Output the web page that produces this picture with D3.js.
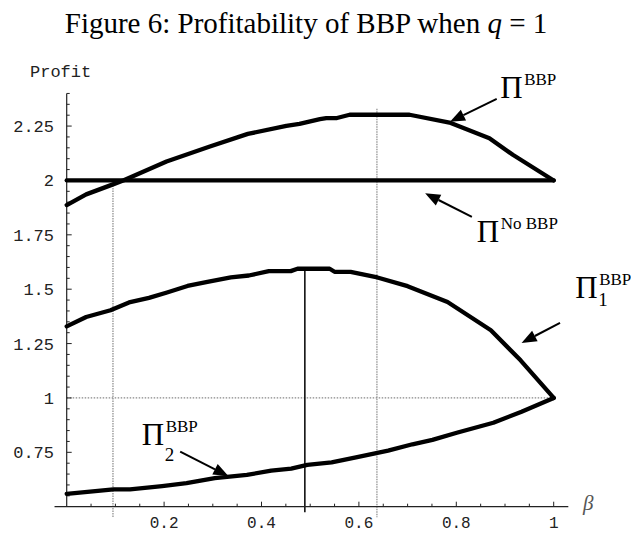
<!DOCTYPE html>
<html>
<head>
<meta charset="utf-8">
<script src="https://cdn.jsdelivr.net/npm/d3@7"></script>
<style>
  body { margin: 0; background: #fff; }
  svg { display: block; }
</style>
</head>
<body>
<div id="plot-div"></div>
<script>
"use strict";

// beta values and profits
const betaBBP = [0, 0.04, 0.095, 0.116, 0.205, 0.294, 0.372, 0.451, 0.478, 0.52, 0.533, 0.555, 0.581, 0.704, 0.786, 0.868, 0.916, 1.0];
const profitBBP = [1.887, 1.936, 1.982, 2.0, 2.087, 2.156, 2.214, 2.251, 2.26, 2.282, 2.287, 2.287, 2.302, 2.302, 2.266, 2.194, 2.118, 2.0];

const betaNoBBP = [0, 1];
const profitNoBBP = [2, 2];

const betaP1 = [0, 0.04, 0.09, 0.128, 0.169, 0.206, 0.248, 0.289, 0.337, 0.374, 0.415, 0.46, 0.474, 0.54, 0.55, 0.583, 0.638, 0.70, 0.782, 0.871, 0.932, 1.0];
const profitP1 = [1.329, 1.372, 1.403, 1.439, 1.46, 1.485, 1.515, 1.534, 1.554, 1.563, 1.583, 1.583, 1.594, 1.594, 1.58, 1.58, 1.554, 1.514, 1.441, 1.311, 1.173, 1.0];

const betaP2 = [0, 0.096, 0.13, 0.196, 0.246, 0.304, 0.37, 0.42, 0.461, 0.494, 0.544, 0.594, 0.66, 0.71, 0.751, 0.801, 0.876, 0.934, 1.0];
const profitP2 = [0.559, 0.58, 0.58, 0.595, 0.608, 0.631, 0.646, 0.666, 0.675, 0.692, 0.704, 0.727, 0.758, 0.787, 0.807, 0.84, 0.886, 0.937, 1.0];

// tick labels
const xTicks = [0.2, 0.4, 0.6, 0.8, 1];
const yTicks = [0.75, 1, 1.25, 1.5, 1.75, 2, 2.25];

// guide lines: [beta, from profit, to profit]
const dottedV = [[0.095, 2.0, 0.452], [0.637, 2.33, 0.452]];
const solidV = [[0.489, 1.594, 0.475]];
const dottedH = [[1, 0, 1]];

// labels: superscript, subscript, text anchor [beta, profit], arrow tail, arrow tip
const labels = [
  {sup: "BBP", sub: "", at: [0.89, 2.378], tail: [0.883, 2.375], tip: [0.787, 2.27]},
  {sup: "No BBP", sub: "", at: [0.842, 1.718], tail: [0.832, 1.833], tip: [0.736, 1.941]},
  {sup: "BBP", sub: "1", at: [1.044, 1.461], tail: [1.013, 1.345], tip: [0.934, 1.253]},
  {sup: "BBP", sub: "2", at: [0.154, 0.784], tail: [0.233, 0.753], tip: [0.332, 0.641]}
];

const width = 631, height = 533;

const svg = d3.select("#plot-div")
  .append("svg")
    .attr("width", width)
    .attr("height", height);

let xScale = d3.scaleLinear()
               .domain([0, 1])
               .range([66.7, 553.7]);

let yScale = d3.scaleLinear()
               .domain([0.5, 2.4])
               .range([506.7, 93.45]);

// title
const title = svg.append("text")
    .attr("x", 306)
    .attr("y", 33)
    .attr("text-anchor", "middle")
    .attr("font-family", "'Liberation Serif', 'Times New Roman', serif")
    .attr("font-size", 29)
    .attr("fill", "#000");
title.append("tspan").text("Figure 6: Profitability of BBP when ");
title.append("tspan").attr("font-style", "italic").text("q");
title.append("tspan").text(" = 1");

const mono = "'Liberation Mono', 'Courier New', monospace";

// axis labels
svg.append("text")
    .attr("x", 30)
    .attr("y", 77)
    .attr("font-family", mono)
    .attr("font-size", 17)
    .attr("fill", "#222")
    .text("Profit");

svg.append("text")
    .attr("x", 583)
    .attr("y", 510)
    .attr("font-family", "'Liberation Serif', serif")
    .attr("font-style", "italic")
    .attr("font-size", 21)
    .attr("fill", "#555")
    .text("β");

// guide lines
const guides = svg.append("g");
guides.selectAll(".dv")
  .data(dottedV)
  .join("line")
    .attr("x1", d => xScale(d[0]))
    .attr("x2", d => xScale(d[0]))
    .attr("y1", d => yScale(d[1]))
    .attr("y2", d => yScale(d[2]))
    .attr("stroke", "#999")
    .attr("stroke-width", 1.4)
    .attr("stroke-dasharray", "1.5,1");

guides.selectAll(".dh")
  .data(dottedH)
  .join("line")
    .attr("x1", d => xScale(d[1]))
    .attr("x2", d => xScale(d[2]))
    .attr("y1", d => yScale(d[0]))
    .attr("y2", d => yScale(d[0]))
    .attr("stroke", "#888")
    .attr("stroke-width", 1.3)
    .attr("stroke-dasharray", "1.5,1.5");

guides.selectAll(".sv")
  .data(solidV)
  .join("line")
    .attr("x1", d => xScale(d[0]))
    .attr("x2", d => xScale(d[0]))
    .attr("y1", d => yScale(d[1]))
    .attr("y2", d => yScale(d[2]))
    .attr("stroke", "#111")
    .attr("stroke-width", 1.6);

// axes, mathematica style: ticks pointing inwards
const axisG = svg.append("g").attr("stroke", "#222");
axisG.append("line")
    .attr("x1", xScale(-0.025)).attr("x2", xScale(1.03))
    .attr("y1", yScale(0.5)).attr("y2", yScale(0.5))
    .attr("stroke-width", 1.2);
axisG.append("line")
    .attr("x1", xScale(0)).attr("x2", xScale(0))
    .attr("y1", yScale(0.5)).attr("y2", yScale(2.4))
    .attr("stroke-width", 1.2);

const xMinor = d3.range(1, 21).map(i => i * 0.05);
axisG.selectAll(".xt")
  .data(xMinor)
  .join("line")
    .attr("x1", d => xScale(d)).attr("x2", d => xScale(d))
    .attr("y1", yScale(0.5))
    .attr("y2", d => yScale(0.5) - (Math.abs(d * 5 - Math.round(d * 5)) < 1e-6 ? 5 : 3))
    .attr("stroke-width", 1);

const yMinor = d3.range(11, 49).map(i => i * 0.05);
axisG.selectAll(".yt")
  .data(yMinor)
  .join("line")
    .attr("y1", d => yScale(d)).attr("y2", d => yScale(d))
    .attr("x1", xScale(0))
    .attr("x2", d => xScale(0) + (Math.abs(d * 4 - Math.round(d * 4)) < 1e-6 ? 5 : 3))
    .attr("stroke-width", 1);

svg.append("g").selectAll("text")
  .data(xTicks)
  .join("text")
    .attr("x", d => xScale(d))
    .attr("y", 528)
    .attr("text-anchor", "middle")
    .attr("font-family", mono)
    .attr("font-size", 16)
    .attr("fill", "#222")
    .text(d => d3.format("")(d));

svg.append("g").selectAll("text")
  .data(yTicks)
  .join("text")
    .attr("x", 54)
    .attr("y", d => yScale(d))
    .attr("dy", "0.35em")
    .attr("text-anchor", "end")
    .attr("font-family", mono)
    .attr("font-size", 17)
    .attr("fill", "#222")
    .text(d => d3.format("")(d));

// curves
let lineGenerator = d3.line()
    .x(d => xScale(d[0]))
    .y(d => yScale(d[1]));

const series = [
  [betaNoBBP, profitNoBBP],
  [betaBBP, profitBBP],
  [betaP1, profitP1],
  [betaP2, profitP2]
];

svg.append("g").selectAll("path")
  .data(series)
  .join("path")
    .attr("d", s => lineGenerator(s[0].map((b, i) => [b, s[1][i]])))
    .attr("fill", "none")
    .attr("stroke", "#000")
    .attr("stroke-width", 4.3)
    .attr("stroke-linejoin", "round")
    .attr("stroke-linecap", "round");

// labels with arrows
const serif = "'Liberation Serif', 'Times New Roman', serif";
labels.forEach(l => {
    const px = xScale(l.at[0]), py = yScale(l.at[1]);
    svg.append("text")
        .attr("x", px)
        .attr("y", py)
        .attr("font-family", serif)
        .attr("font-size", 31)
        .text("Π");
    if (l.sub) {
        // the "2" sits lower than the "1" in the figure
        svg.append("text")
            .attr("x", px + 23)
            .attr("y", py + (l.sub === "2" ? 16 : 8))
            .attr("font-family", serif)
            .attr("font-size", 19)
            .text(l.sub);
    }
    svg.append("text")
        .attr("x", px + 24)
        .attr("y", py - 13)
        .attr("font-family", serif)
        .attr("font-size", 17)
        .text(l.sup);

    // arrow: shaft plus filled head
    const x1 = xScale(l.tail[0]), y1 = yScale(l.tail[1]);
    const x2 = xScale(l.tip[0]), y2 = yScale(l.tip[1]);
    const ang = Math.atan2(y2 - y1, x2 - x1);
    const hl = 15, hw = 6;
    const bx = x2 - hl * Math.cos(ang), by = y2 - hl * Math.sin(ang);
    svg.append("line")
        .attr("x1", x1).attr("y1", y1)
        .attr("x2", bx).attr("y2", by)
        .attr("stroke", "#000")
        .attr("stroke-width", 2);
    svg.append("path")
        .attr("d", d3.line()([
            [x2, y2],
            [bx + hw * Math.sin(ang), by - hw * Math.cos(ang)],
            [bx - hw * Math.sin(ang), by + hw * Math.cos(ang)]
        ]) + "Z")
        .attr("fill", "#000");
});
</script>
</body>
</html>
